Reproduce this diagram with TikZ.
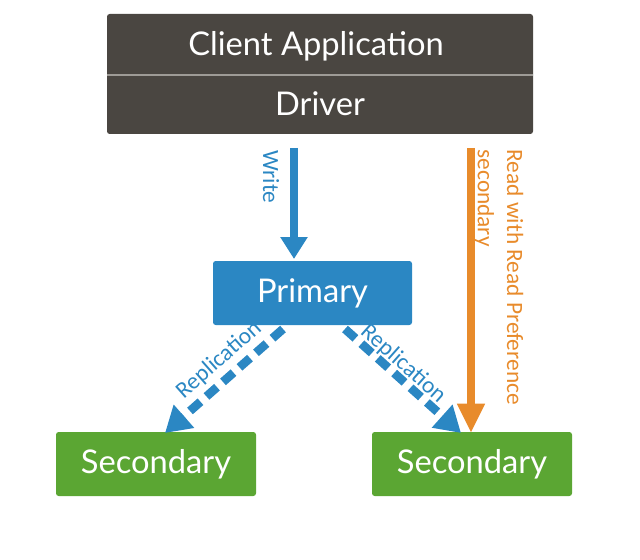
\documentclass[tikz,border=0pt]{standalone}
\usepackage{fontspec}
\setmainfont{Lato}
\newfontfamily\labelfont{Carlito}
\usetikzlibrary{arrows.meta}
\definecolor{darkbg}{HTML}{4A4641}
\definecolor{divcol}{HTML}{9E9B96}
\definecolor{mblue}{HTML}{2B87C3}
\definecolor{mgreen}{HTML}{5BA633}
\definecolor{morange}{HTML}{E88B2B}
\tikzset{
  bigfont/.style={font=\fontsize{24.5}{28}\selectfont},
  boxtext/.style={text=white, bigfont, inner sep=0pt},
  darkbox/.style={fill=darkbg, rounded corners=2pt, minimum width=319.5pt, minimum height=90pt, inner sep=0pt},
  primbox/.style={fill=mblue, rounded corners=2pt, minimum width=149.25pt, minimum height=48pt, text=white, bigfont},
  secbox/.style={fill=mgreen, rounded corners=2pt, minimum width=150pt, minimum height=48pt, text=white, bigfont},
  lbl/.style={font=\labelfont\fontsize{17.5}{22}\selectfont, inner sep=1pt},
  writearrow/.style={draw=mblue, line width=6pt, -{Triangle[width=19.5pt,length=16.5pt]}},
  readarrow/.style={draw=morange, line width=6pt, -{Triangle[width=19.5pt,length=22pt]}},
  reparrow/.style={draw=mblue, line width=6.5pt, dash pattern=on 10.5pt off 6pt, -{Triangle[width=22pt,length=19pt]}},
}
\begin{document}
\begin{tikzpicture}[x=0.75pt,y=-0.75pt]
\useasboundingbox (0,0) rectangle (640,560);
% client application / driver
\node[darkbox] (cbox) at (320,74) {};
\node[boxtext] (app) at (316,46) {Client Application};
\node[boxtext] (drv) at (320,104) {Driver};
\coordinate (divl) at (107,75);
\coordinate (divr) at (533,75);
\draw[divcol, line width=1.2pt] (divl) -- (divr);
% boxes
\node[primbox] (prim) at (312.5,293) {Primary};
\node[secbox] (secl) at (156,464) {Secondary};
\node[secbox] (secr) at (472,464) {Secondary};
% write arrow
\coordinate (ws) at (294,148);
\coordinate (we) at (294,259);
\draw[writearrow] (ws) -- (we);
\node[lbl, text=mblue, rotate=-90, anchor=west] (wl) at (271,149) {Write};
% read arrow
\coordinate (rs) at (471,148);
\coordinate (re) at (471,433);
\draw[readarrow] (rs) -- (re);
\node[lbl, text=morange, rotate=-90, anchor=north west, align=left] (rl) at (525,148) {Read with Read Preference\\secondary};
% replication arrows
\coordinate (rls) at (283,329);
\coordinate (rle) at (165,433);
\coordinate (rrs) at (345,329);
\coordinate (rre) at (461,433);
\draw[reparrow] (rls) -- (rle);
\draw[reparrow] (rrs) -- (rre);
\node[lbl, text=mblue, rotate=41.5] (repl) at (219,360) {Replication};
\node[lbl, text=mblue, rotate=-41.5] (repr) at (403,364) {Replication};
\end{tikzpicture}
\end{document}
